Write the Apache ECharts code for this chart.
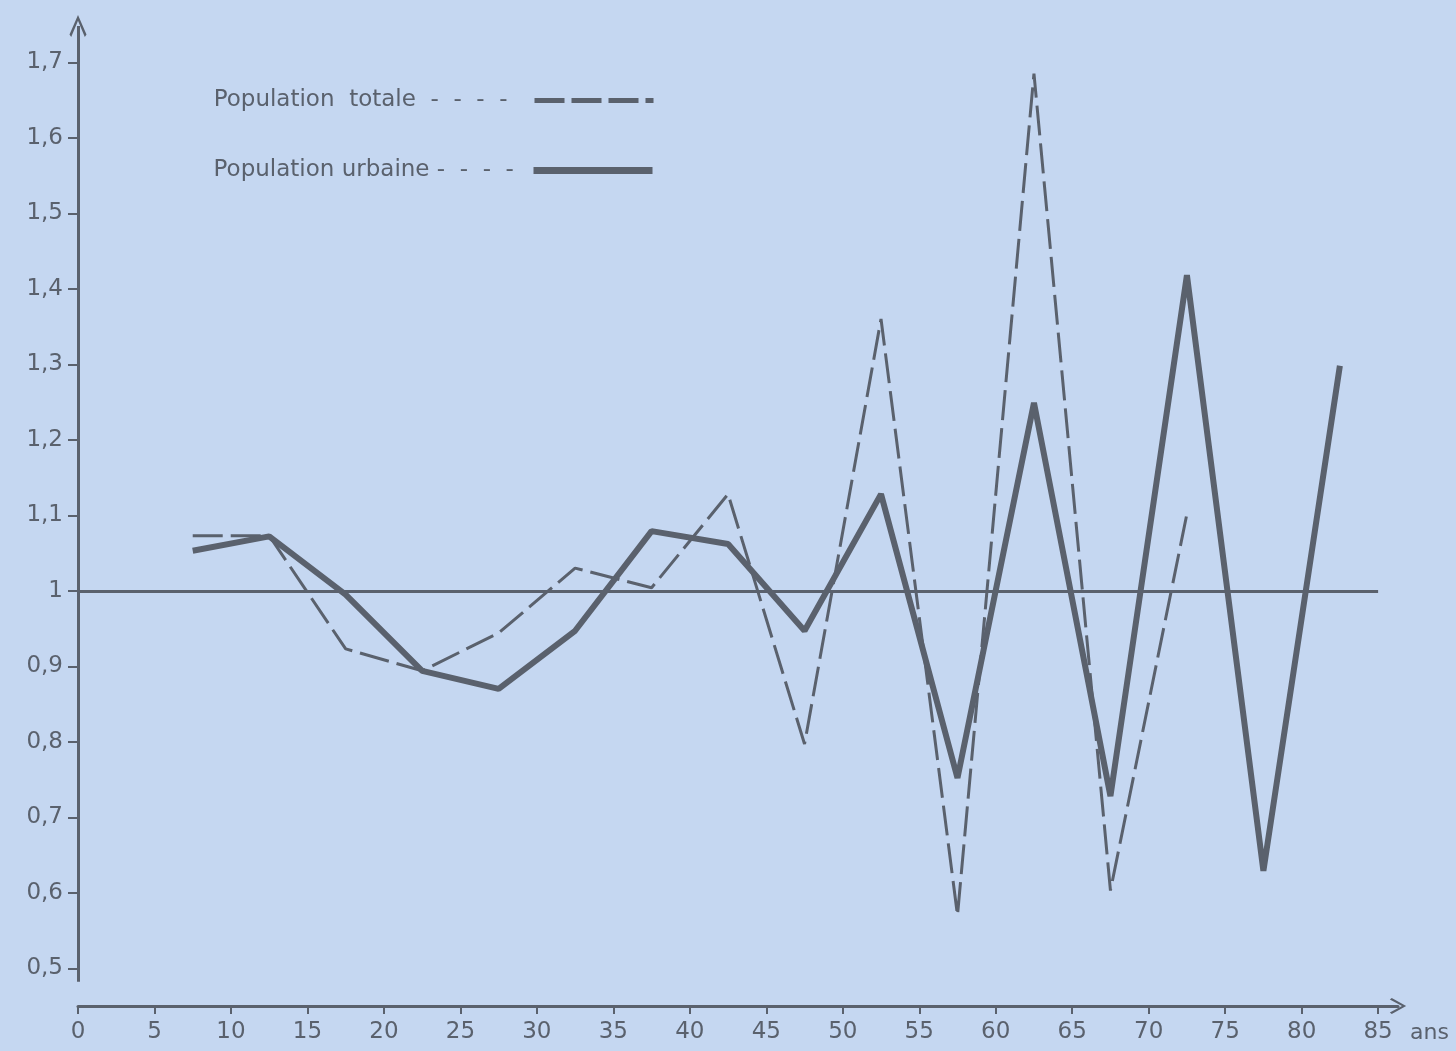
<!DOCTYPE html>
<html>
<head>
<meta charset="utf-8">
<title>Population totale et urbaine</title>
<script src="https://cdn.jsdelivr.net/npm/echarts@6/dist/echarts.min.js"></script>
<style>
  html, body { margin: 0; padding: 0; background: #c5d7f1; }
  #chart { width: 1456px; height: 1051px; }
</style>
</head>
<body>
<div id="chart"></div>
<script>
// ages (milieu des classes de 5 ans)
var ages = [7.5, 12.5, 17.5, 22.5, 27.5, 32.5, 37.5, 42.5, 47.5, 52.5, 57.5, 62.5, 67.5, 72.5, 77.5, 82.5];
var totale = [1.073, 1.073, 0.923, 0.894, 0.944, 1.03, 1.004, 1.128, 0.797, 1.36, 0.57, 1.685, 0.603, 1.102];
var urbaine = [1.053, 1.072, 0.995, 0.894, 0.87, 0.947, 1.079, 1.062, 0.947, 1.128, 0.752, 1.249, 0.728, 1.418, 0.629, 1.298];

var xTicks = [0, 5, 10, 15, 20, 25, 30, 35, 40, 45, 50, 55, 60, 65, 70, 75, 80, 85];
var xTickLabels = ['0', '5', '10', '15', '20', '25', '30', '35', '40', '45', '50', '55', '60', '65', '70', '75', '80', '85'];
var yTicks = [0.5, 0.6, 0.7, 0.8, 0.9, 1, 1.1, 1.2, 1.3, 1.4, 1.5, 1.6, 1.7];
var yTickLabels = ['0,5', '0,6', '0,7', '0,8', '0,9', '1', '1,1', '1,2', '1,3', '1,4', '1,5', '1,6', '1,7'];

var ink = '#5a616d';
var font = 'DejaVu Sans';
// open arrow head, pointing up
var chevron = 'path://M5,0 L10,9 L9,10.2 L5,2.6 L1,10.2 L0,9 Z';

function pairs(xs, ys) {
  var out = [];
  for (var i = 0; i < ys.length; i++) out.push([xs[i], ys[i]]);
  return out;
}

function labelFor(ticks, labels) {
  return function (v) {
    for (var i = 0; i < ticks.length; i++) {
      if (Math.abs(ticks[i] - v) < 1e-6) return labels[i];
    }
    return '';
  };
}

function legendBox(top, item, text) {
  return {
    right: 795,
    top: top,
    orient: 'vertical',
    align: 'right',
    itemWidth: 119,
    itemHeight: 14,
    selectedMode: false,
    textStyle: { color: ink, fontFamily: font, fontSize: 23 },
    formatter: function () { return text; },
    data: [item]
  };
}

var chart = echarts.init(document.getElementById('chart'), null, { renderer: 'canvas' });

var option = {
  backgroundColor: '#c5d7f1',
  animation: false,
  grid: {
    left: 78,
    right: 58,
    top: 17,
    bottom: 45,
    containLabel: false,
    outerBoundsMode: 'none'
  },
  legend: [
    legendBox(84, {
      name: 'Population totale',
      itemStyle: { opacity: 0 },
      lineStyle: { width: 5, type: [30, 7], color: ink }
    }, 'Population  totale  -  -  -  -   '),
    legendBox(154, {
      name: 'Population urbaine',
      itemStyle: { opacity: 0 },
      lineStyle: { width: 7, type: 'solid', color: ink }
    }, 'Population urbaine -  -  -  -  ')
  ],
  xAxis: {
    type: 'value',
    min: 0,
    max: 86.3,
    name: 'ans',
    nameLocation: 'end',
    nameGap: 12,
    nameTextStyle: {
      color: ink,
      fontFamily: font,
      fontSize: 22,
      verticalAlign: 'top',
      padding: [16, 0, 0, 0]
    },
    splitLine: { show: false },
    axisLine: {
      show: true,
      symbol: ['none', chevron],
      symbolSize: [16, 20],
      lineStyle: { color: ink, width: 3 }
    },
    axisTick: {
      show: true,
      length: 8,
      customValues: xTicks,
      lineStyle: { color: ink, width: 2 }
    },
    axisLabel: {
      customValues: xTicks,
      margin: 15,
      color: ink,
      fontFamily: font,
      fontSize: 23,
      formatter: labelFor(xTicks, xTickLabels)
    }
  },
  yAxis: {
    type: 'value',
    min: 0.45,
    max: 1.76,
    splitLine: { show: false },
    axisLine: { show: false },
    axisTick: {
      show: true,
      length: 10,
      customValues: yTicks,
      lineStyle: { color: ink, width: 2 }
    },
    axisLabel: {
      customValues: yTicks,
      margin: 15,
      color: ink,
      fontFamily: font,
      fontSize: 23,
      formatter: labelFor(yTicks, yTickLabels)
    }
  },
  series: [
    {
      name: 'Population totale',
      type: 'line',
      data: pairs(ages, totale),
      symbol: 'none',
      z: 3,
      itemStyle: { color: ink },
      lineStyle: { color: ink, width: 3, type: [30, 8], join: 'bevel' }
    },
    {
      name: 'Population urbaine',
      type: 'line',
      data: pairs(ages, urbaine),
      symbol: 'none',
      z: 4,
      itemStyle: { color: ink },
      lineStyle: { color: ink, width: 6, type: 'solid', join: 'bevel' }
    },
    {
      // axe vertical et ligne de référence 1
      name: 'axes',
      type: 'line',
      data: [],
      clip: false,
      silent: true,
      markLine: {
        silent: true,
        animation: false,
        label: { show: false },
        data: [
          [
            { coord: [0, 0.482], symbol: 'none' },
            { coord: [0, 1.748], symbol: chevron, symbolSize: [17, 22] }
          ],
          [
            { coord: [0, 1], symbol: 'none' },
            { coord: [85, 1], symbol: 'none' }
          ]
        ],
        lineStyle: { color: ink, width: 3, type: 'solid' }
      }
    }
  ]
};

chart.setOption(option);
</script>
</body>
</html>
